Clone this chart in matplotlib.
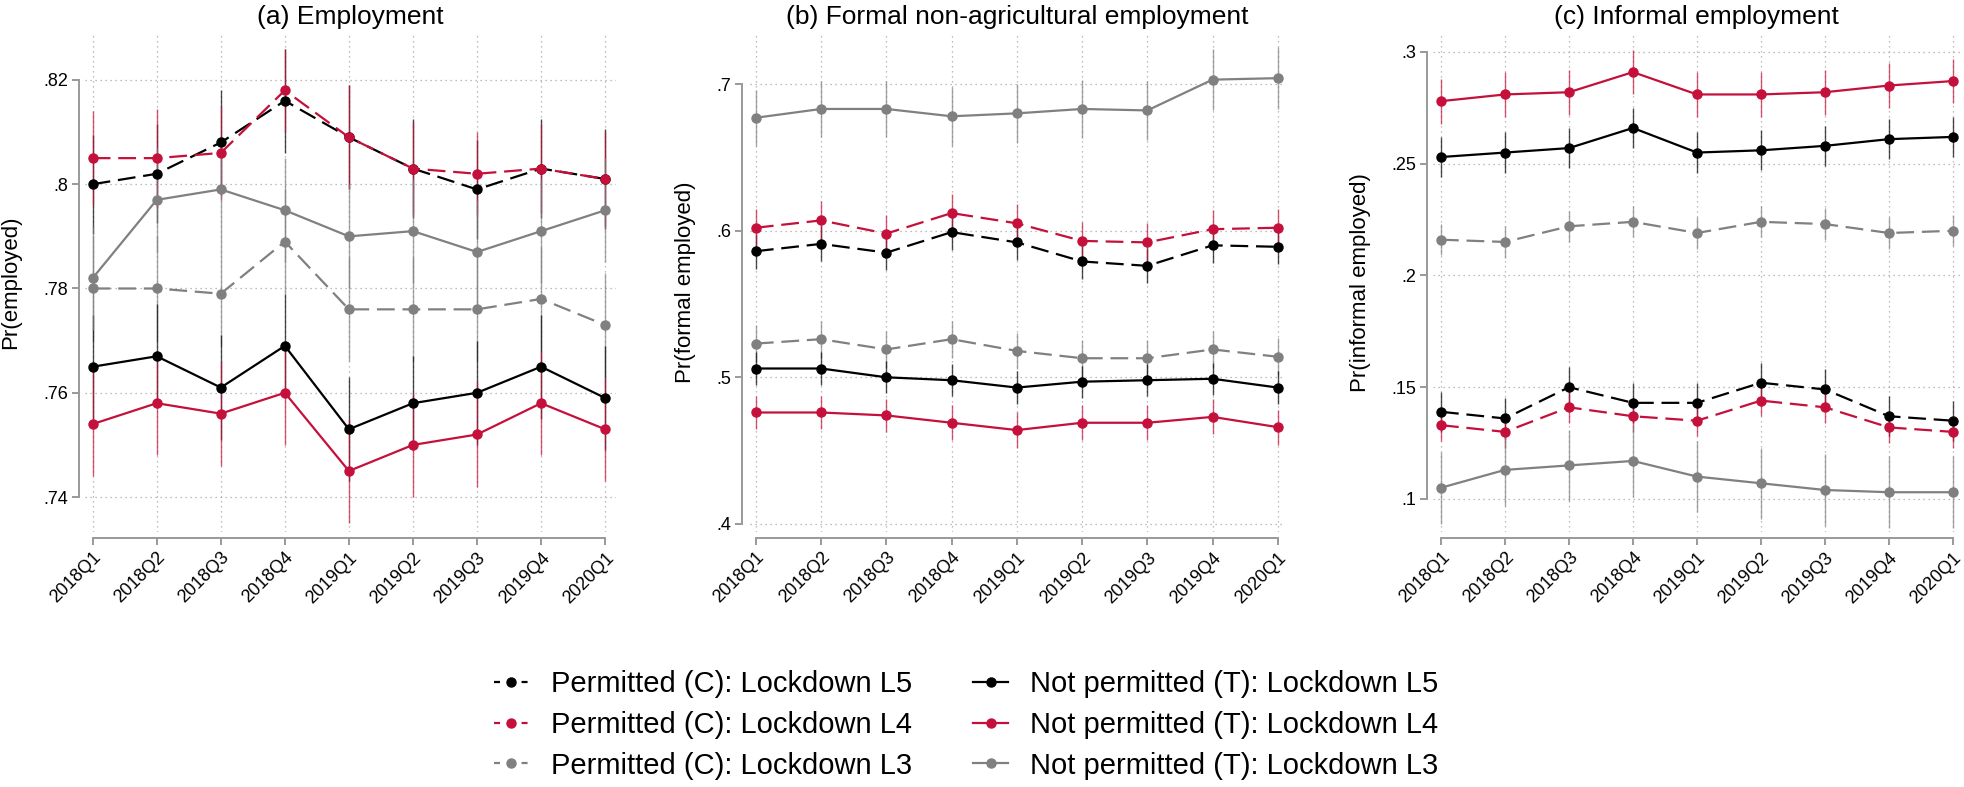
import matplotlib
matplotlib.use("Agg")
import matplotlib.pyplot as plt
from matplotlib.lines import Line2D
import numpy as np

plt.rcParams['font.family'] = ['Liberation Sans', 'DejaVu Sans']

quarters = ["2018Q1", "2018Q2", "2018Q3", "2018Q4", "2019Q1", "2019Q2", "2019Q3", "2019Q4", "2020Q1"]

# ---- Panel (a) Employment ----
a_p_l5 = [.800, .802, .808, .816, .809, .803, .799, .803, .801]
a_p_l4 = [.805, .805, .806, .818, .809, .803, .802, .803, .801]
a_p_l3 = [.780, .780, .779, .789, .776, .776, .776, .778, .773]
a_np_l5 = [.765, .767, .761, .769, .753, .758, .760, .765, .759]
a_np_l4 = [.754, .758, .756, .760, .745, .750, .752, .758, .753]
a_np_l3 = [.782, .797, .799, .795, .790, .791, .787, .791, .795]
a_hw_p_l5 = [.0095, .0095, .010, .010, .010, .0095, .0095, .0095, .0095]
a_hw_p_l4 = [.009, .0095, .009, .008, .010, .009, .008, .0085, .009]
a_hw_p_l3 = [.010, .010, .010, .010, .010, .010, .010, .010, .010]
a_hw_np_l5 = [.010, .010, .010, .010, .010, .009, .010, .010, .010]
a_hw_np_l4 = [.010, .010, .010, .010, .010, .010, .010, .010, .010]
a_hw_np_l3 = [.010, .010, .010, .010, .010, .010, .010, .010, .010]

# ---- Panel (b) Formal non-agricultural employment ----
b_p_l5 = [.586, .591, .585, .599, .592, .579, .576, .590, .589]
b_p_l4 = [.602, .607, .598, .612, .605, .593, .592, .601, .602]
b_p_l3 = [.523, .526, .519, .526, .518, .513, .513, .519, .514]
b_np_l5 = [.506, .506, .500, .498, .493, .497, .498, .499, .493]
b_np_l4 = [.476, .476, .474, .469, .464, .469, .469, .473, .466]
b_np_l3 = [.677, .683, .683, .678, .680, .683, .682, .703, .704]
b_hw_p_l5 = [.012, .012, .012, .012, .012, .012, .012, .012, .012]
b_hw_p_l4 = [.013, .013, .013, .013, .013, .013, .013, .013, .013]
b_hw_p_l3 = [.0125, .0125, .0125, .0125, .0125, .0125, .0125, .0125, .0125]
b_hw_np_l5 = [.011, .011, .011, .011, .011, .011, .011, .011, .011]
b_hw_np_l4 = [.011, .011, .011, .012, .012, .012, .012, .012, .012]
b_hw_np_l3 = [.019, .019, .019, .020, .020, .020, .020, .021, .021]

# ---- Panel (c) Informal employment ----
c_p_l5 = [.139, .136, .150, .143, .143, .152, .149, .137, .135]
c_p_l4 = [.133, .130, .141, .137, .135, .144, .141, .132, .130]
c_p_l3 = [.216, .215, .222, .224, .219, .224, .223, .219, .220]
c_np_l5 = [.253, .255, .257, .266, .255, .256, .258, .261, .262]
c_np_l4 = [.278, .281, .282, .291, .281, .281, .282, .285, .287]
c_np_l3 = [.105, .113, .115, .117, .110, .107, .104, .103, .103]
c_hw_p_l5 = [.009, .009, .009, .009, .009, .009, .009, .009, .009]
c_hw_p_l4 = [.007, .007, .007, .007, .007, .007, .007, .007, .007]
c_hw_p_l3 = [.007, .007, .007, .007, .007, .007, .007, .007, .007]
c_hw_np_l5 = [.009, .009, .009, .009, .009, .009, .009, .009, .009]
c_hw_np_l4 = [.010, .010, .010, .010, .010, .010, .010, .010, .010]
c_hw_np_l3 = [.016, .016, .016, .016, .016, .016, .016, .016, .016]

legend_labels = ["Permitted (C): Lockdown L5", "Permitted (C): Lockdown L4", "Permitted (C): Lockdown L3",
                 "Not permitted (T): Lockdown L5", "Not permitted (T): Lockdown L4", "Not permitted (T): Lockdown L3"]

titles = ["(a) Employment", "(b) Formal non-agricultural employment", "(c) Informal employment"]
ylabels = ["Pr(employed)", "Pr(formal employed)", "Pr(informal employed)"]
yticks_list = [[.74, .76, .78, .80, .82], [.4, .5, .6, .7], [.1, .15, .2, .25, .3]]
yticklabels_list = [[".74", ".76", ".78", ".8", ".82"], [".4", ".5", ".6", ".7"], [".1", ".15", ".2", ".25", ".3"]]

BLACK = "#000000"
RED = "#C4103A"
GREY = "#808080"
colors = [BLACK, RED, GREY, BLACK, RED, GREY]
DASH = (0, (8, 3.5))
styles = [DASH, DASH, DASH, '-', '-', '-']

panels = [
    ([a_p_l5, a_p_l4, a_p_l3, a_np_l5, a_np_l4, a_np_l3],
     [a_hw_p_l5, a_hw_p_l4, a_hw_p_l3, a_hw_np_l5, a_hw_np_l4, a_hw_np_l3]),
    ([b_p_l5, b_p_l4, b_p_l3, b_np_l5, b_np_l4, b_np_l3],
     [b_hw_p_l5, b_hw_p_l4, b_hw_p_l3, b_hw_np_l5, b_hw_np_l4, b_hw_np_l3]),
    ([c_p_l5, c_p_l4, c_p_l3, c_np_l5, c_np_l4, c_np_l3],
     [c_hw_p_l5, c_hw_p_l4, c_hw_p_l3, c_hw_np_l5, c_hw_np_l4, c_hw_np_l3]),
]

W, H = 1965, 787
fig = plt.figure(figsize=(W / 100, H / 100), dpi=100)

# layout in pixels: left, right, top, bottom of plot region
boxes = [(85, 616, 33, 532), (750, 1285, 33, 532), (1433, 1960, 33, 532)]
ylims = [(.7333, .8290), (.3945, .7348), (.0852, .3085)]
xlims = [(-0.12, 8.17), (-0.09, 8.11), (-0.125, 8.11)]
spine_off = [6, 8, 6]
ylab_x = [-0.12, -0.101, -0.118]

x = np.arange(len(quarters))
for i, (series, hws) in enumerate(panels):
    l, r, t, b = boxes[i]
    ax = fig.add_axes([l / W, 1 - b / H, (r - l) / W, (b - t) / H])
    ax.set_xlim(*xlims[i])
    ax.set_ylim(*ylims[i])
    ax.grid(True, linestyle=(0, (1, 3)), color="#a8a8a8", linewidth=0.9)
    ax.set_axisbelow(True)
    for k, (vals, hw) in enumerate(zip(series, hws)):
        v = np.array(vals)
        h = np.array(hw)
        ax.vlines(x, v - h, v + h, colors=colors[k], linewidth=1.0, alpha=0.7, zorder=2)
    # draw order: greys first, then black, red
    for k in [2, 5, 0, 3, 1, 4]:
        ax.plot(x, series[k], color=colors[k], linestyle=styles[k], linewidth=1.6,
                marker='o', markersize=6.5, zorder=3)
    for s in ['top', 'right']:
        ax.spines[s].set_visible(False)
    ax.spines['left'].set_position(('outward', spine_off[i] * 0.72))
    ax.spines['bottom'].set_position(('outward', 6 * 0.72))
    ax.spines['left'].set_bounds(yticks_list[i][0], yticks_list[i][-1])
    ax.spines['bottom'].set_bounds(0, len(quarters) - 1)
    for s in ['left', 'bottom']:
        ax.spines[s].set_color("#999999")
        ax.spines[s].set_linewidth(1.4)
    ax.tick_params(axis='both', color="#999999", width=1.4, length=5, pad=3, labelcolor='black',
                   labelsize=13)
    ax.set_xticks(x)
    ax.set_xticklabels(quarters)
    ax.set_yticks(yticks_list[i])
    ax.set_yticklabels(yticklabels_list[i])
    plt.setp(ax.get_xticklabels(), rotation=45, ha='right', rotation_mode='anchor', fontsize=13)
    plt.setp(ax.get_yticklabels(), fontsize=13)
    ax.set_title(titles[i], fontsize=19, pad=6.5)
    ax.set_ylabel(ylabels[i], fontsize=16)
    ax.yaxis.set_label_coords(ylab_x[i], 0.5)

handles = [Line2D([0], [0], color=colors[k], linestyle=styles[k] if k >= 3 else (0, (2.7, 3.5)),
                  linewidth=1.6, marker='o', markersize=6.5) for k in range(6)]
fig.legend(handles, legend_labels, ncol=2, loc='center', bbox_to_anchor=(966 / W, 1 - 725 / H),
           frameon=False, fontsize=21, handlelength=1.2, handletextpad=0.75, columnspacing=2.1,
           labelspacing=0.43)

fig.savefig("out.png", dpi=100)
